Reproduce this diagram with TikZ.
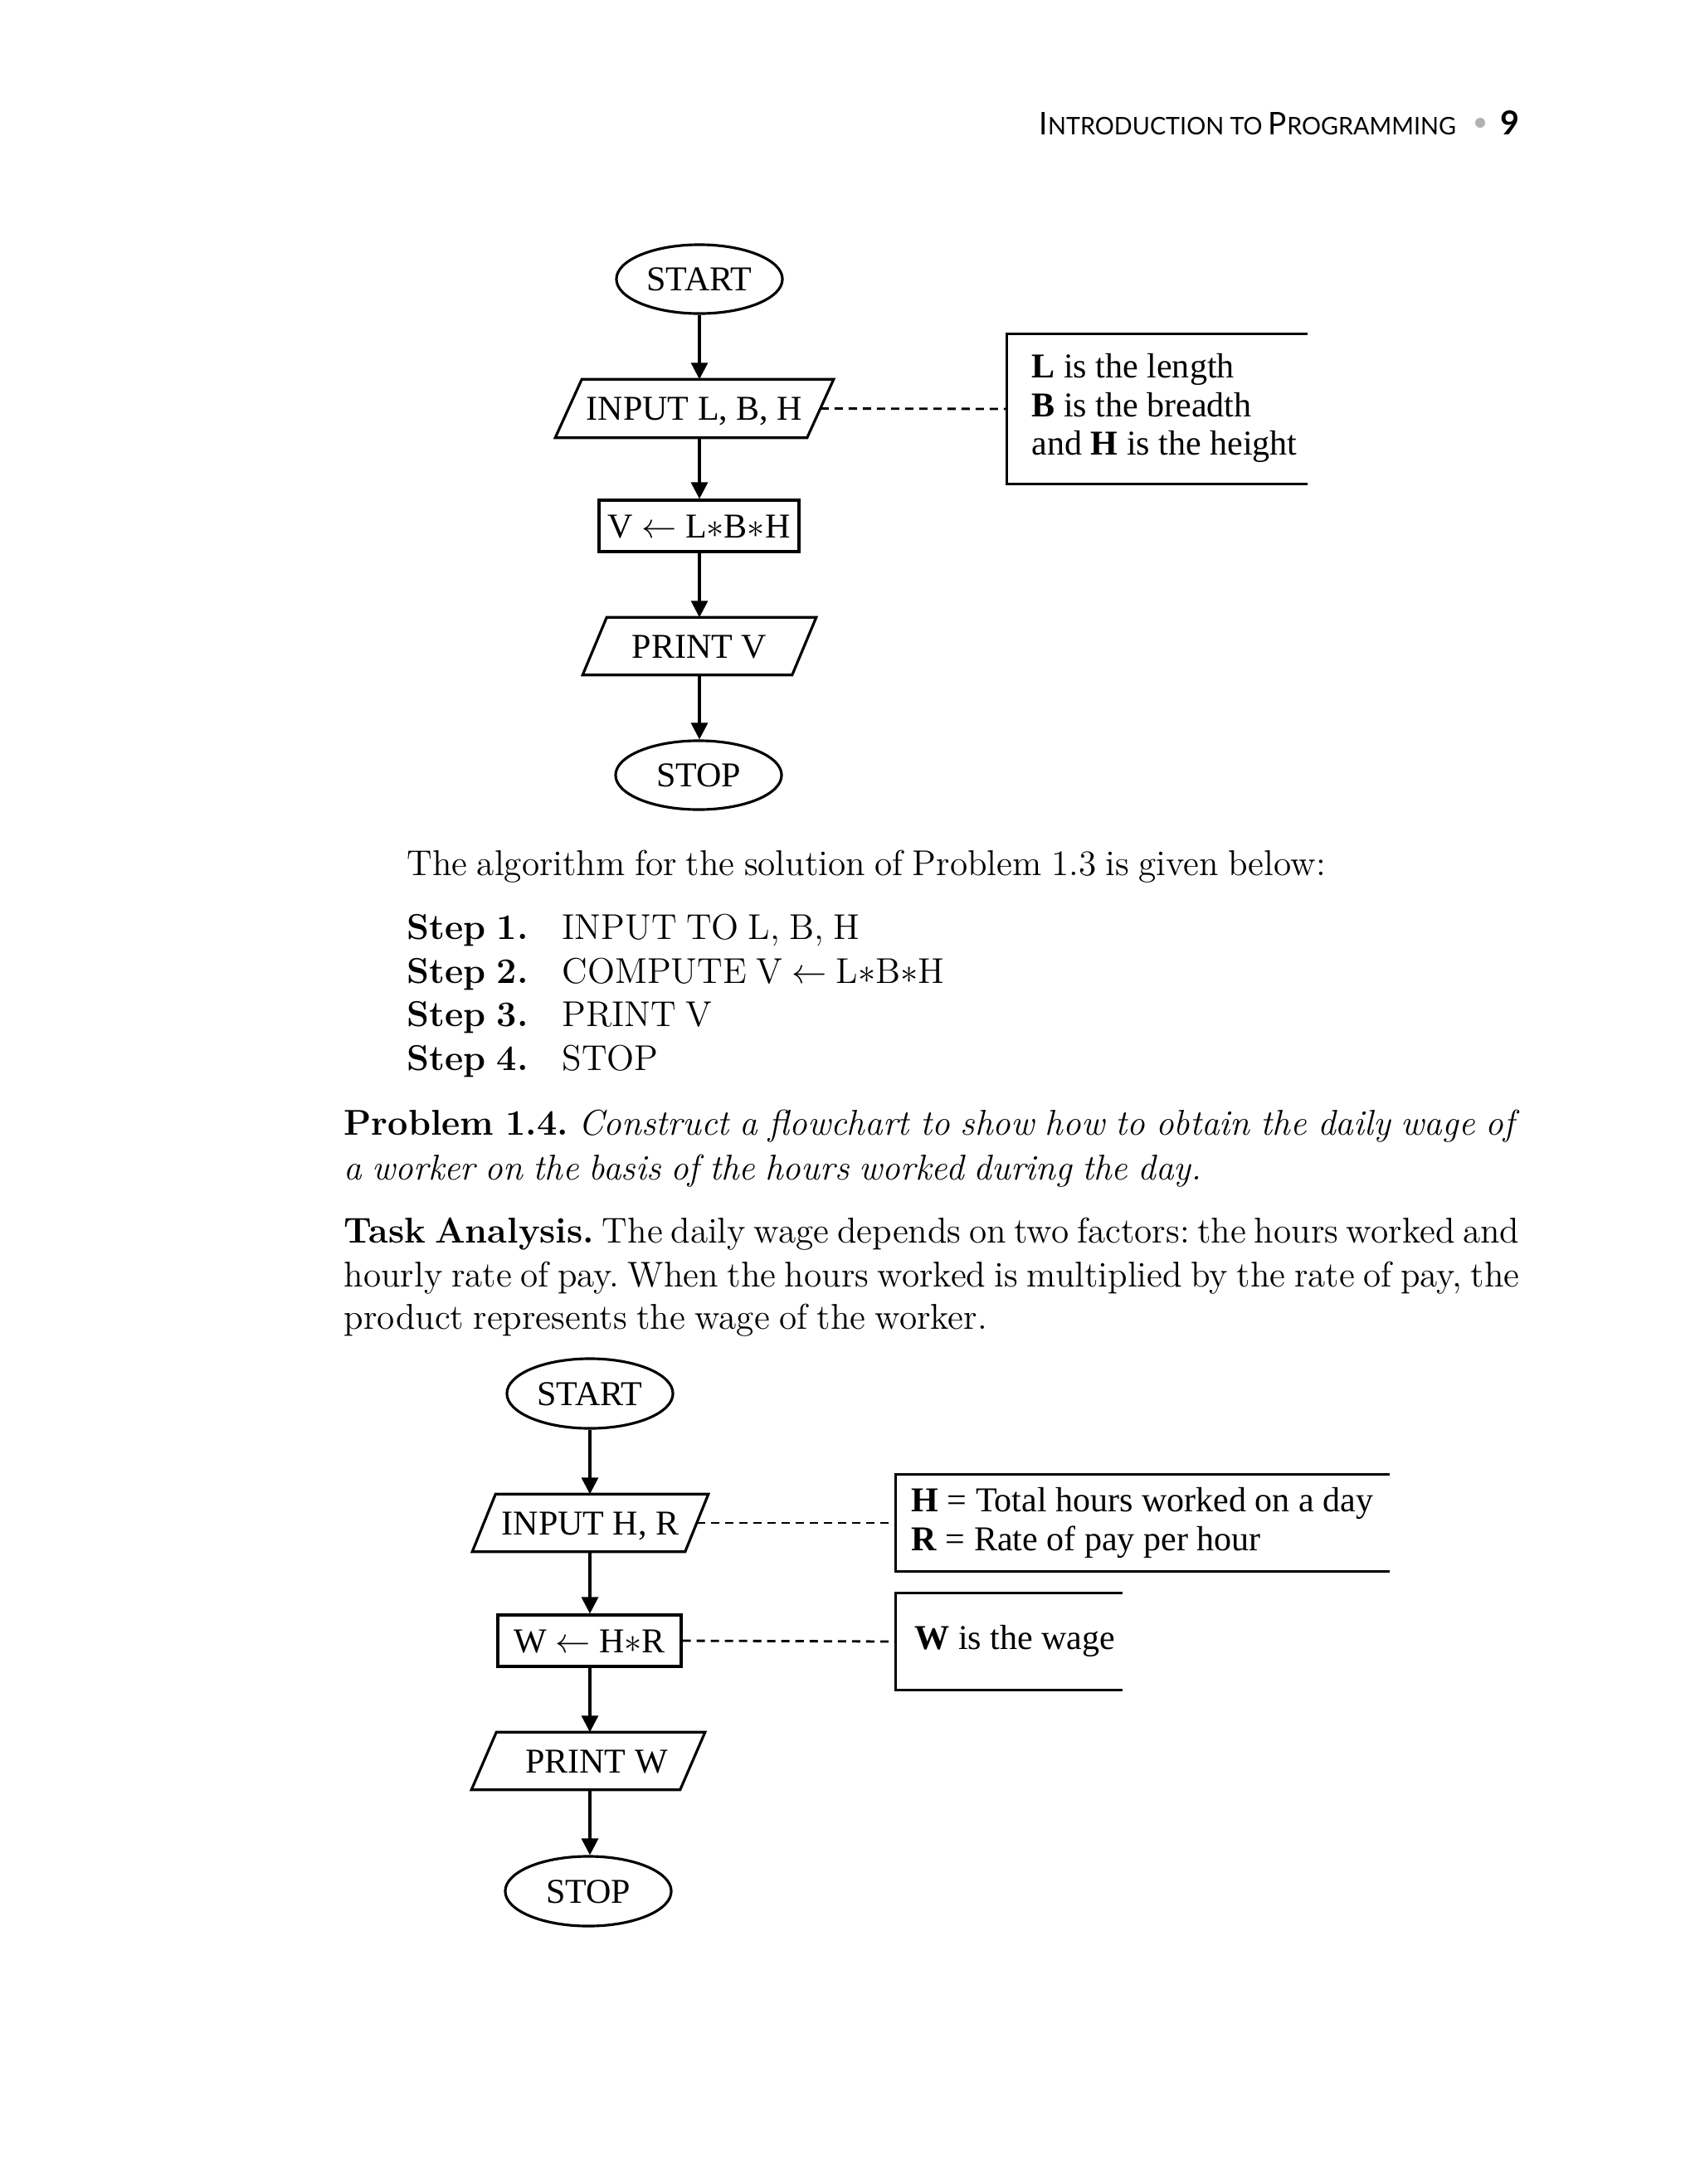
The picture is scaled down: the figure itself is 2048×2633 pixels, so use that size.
\documentclass[tikz,border=0pt]{standalone}
\usepackage{fontspec}
\usepackage{graphicx}
\usetikzlibrary{shapes.geometric,arrows.meta}
\newfontfamily\dgfont{Liberation Serif}
\newfontfamily\hdfont{Lato}
\newfontfamily\bodyfont{Latin Modern Roman}[WordSpace=0.8]
\newcommand{\drawpara}[2]{\draw[ln] ([xshift=#2]#1.north west) -- (#1.north east) -- ([xshift=-#2]#1.south east) -- (#1.south west) -- cycle;}
\tikzset{
  ln/.style={line width=0.9pt},
  arr/.style={ln, -{Triangle[length=0.2cm,width=0.2cm]}},
  dsh/.style={line width=0.8pt, dash pattern=on 0.1cm off 0.07cm},
  fc/.style={font=\dgfont\fontsize{11.95}{14}\selectfont, text height=0.28cm, text depth=0pt, inner sep=0pt},
  term/.style={fc, ellipse, draw, ln, minimum width=2cm, minimum height=0.83cm},
  proc/.style={fc, rectangle, draw, ln},
  io/.style={fc, rectangle, draw=none},
  brk/.style={rectangle, draw=none, inner sep=0pt},
  btxt/.style={font=\dgfont\fontsize{11.95}{14}\selectfont, anchor=base west, inner sep=0pt},
  body/.style={font=\bodyfont\fontsize{12.3}{14}\selectfont, anchor=base west, inner sep=0pt},
}
\begin{document}
\frenchspacing
\begin{tikzpicture}[x=0.01cm, y=-0.01cm]
\fill[white] (0,0) rectangle (2048,2633);
\useasboundingbox (0,0) rectangle (2048,2633);

% header
\node[anchor=base west, inner sep=0pt] (hdr) at (1252,162) {\resizebox{5.02cm}{0.27cm}{\hdfont{\fontsize{10.7}{12}\selectfont I}{\fontsize{8.3}{10}\selectfont NTRODUCTION TO }{\fontsize{10.7}{12}\selectfont P}{\fontsize{8.3}{10}\selectfont ROGRAMMING}}};
\node[circle, fill=gray!60, minimum size=0.12cm, inner sep=0pt] (dot) at (1784,148) {};
\node[anchor=base west, inner sep=0pt] (pg) at (1808,162) {\resizebox{!}{0.29cm}{\hdfont\bfseries 9}};

% top flowchart
\node[term] (st1) at (843,336.5) {START};
\node[io, minimum width=3.34cm, minimum height=0.69cm] (in1) at (837,492.5) {INPUT L, B, H};
\node[proc, minimum width=2.41cm, minimum height=0.62cm] (cp1) at (842.5,634) {V $\leftarrow$ L$*$B$*$H};
\node[io, minimum width=2.80cm, minimum height=0.68cm] (pr1) at (843,779) {PRINT V};
\node[term] (sp1) at (842,934.5) {STOP};
\drawpara{in1}{0.32cm}
\drawpara{pr1}{0.29cm}
\draw[arr] (st1.south) -- (st1.south |- in1.north);
\draw[arr] (st1.south |- in1.south) -- (st1.south |- cp1.north);
\draw[arr] (st1.south |- cp1.south) -- (st1.south |- pr1.north);
\draw[arr] (st1.south |- pr1.south) -- (st1.south |- sp1.north);

\node[brk, minimum width=3.61cm, minimum height=1.80cm] (nt1) at (1394.5,493) {};
\draw[ln] (nt1.north east) -- (nt1.north west) -- (nt1.south west) -- (nt1.south east);
\draw[dsh] ([xshift=-0.16cm]in1.east) -- (nt1.west);
\node[btxt] (t1a) at (1243,455) {\textbf{L} is the length};
\node[btxt] (t1b) at (1243,502) {\textbf{B} is the breadth};
\node[btxt] (t1c) at (1243,548) {and \textbf{H} is the height};

% body text
\node[body] (l0) at (490,1055) {The algorithm for the solution of Problem 1.3 is given below:};
\node[body] (s1a) at (490,1132) {\textbf{Step 1.}};
\node[body] (s1b) at (677,1132) {INPUT TO L, B, H};
\node[body] (s2a) at (490,1185) {\textbf{Step 2.}};
\node[body] (s2b) at (677,1185) {COMPUTE V $\leftarrow$ L$*$B$*$H};
\node[body] (s3a) at (490,1237) {\textbf{Step 3.}};
\node[body] (s3b) at (677,1237) {PRINT V};
\node[body] (s4a) at (490,1290) {\textbf{Step 4.}};
\node[body] (s4b) at (677,1290) {STOP};

\node[body] (pa) at (414,1368) {\makebox[14.16cm][s]{\textbf{Problem 1.4.}\ \textit{Construct a flowchart to show how to obtain the daily wage of}}};
\node[body] (pb) at (414,1422) {\textit{a worker on the basis of the hours worked during the day.}};
\node[body] (ta) at (414,1498) {\makebox[14.16cm][s]{\textbf{Task Analysis.} The daily wage depends on two factors: the hours worked and}};
\node[body] (tb) at (414,1551) {\makebox[14.16cm][s]{hourly rate of pay. When the hours worked is multiplied by the rate of pay, the}};
\node[body] (tc) at (414,1602) {product represents the wage of the worker.};

% bottom flowchart
\node[term, minimum height=0.84cm] (st2) at (711,1680) {START};
\node[io, minimum width=2.83cm, minimum height=0.68cm] (in2) at (711.5,1836) {INPUT H, R};
\node[proc, minimum width=2.21cm, minimum height=0.62cm] (cp2) at (710.5,1978) {W $\leftarrow$ H$*$R};
\node[io, minimum width=2.80cm, minimum height=0.68cm] (pr2) at (709,2123) {\hspace*{0.2cm}PRINT W};
\node[term, minimum height=0.84cm] (sp2) at (709,2280) {STOP};
\drawpara{in2}{0.28cm}
\drawpara{pr2}{0.30cm}
\draw[arr] (st2.south) -- (st2.south |- in2.north);
\draw[arr] (st2.south |- in2.south) -- (st2.south |- cp2.north);
\draw[arr] (st2.south |- cp2.south) -- (st2.south |- pr2.north);
\draw[arr] (st2.south |- pr2.south) -- (st2.south |- sp2.north);

\node[brk, minimum width=5.94cm, minimum height=1.16cm] (nt2) at (1377,1836) {};
\draw[ln] (nt2.north east) -- (nt2.north west) -- (nt2.south west) -- (nt2.south east);
\draw[dsh] ([xshift=-0.14cm]in2.east) -- (nt2.west);
\node[btxt] (t2a) at (1098,1822) {\textbf{H} = Total hours worked on a day};
\node[btxt] (t2b) at (1098,1869) {\textbf{R} = Rate of pay per hour};

\node[brk, minimum width=2.72cm, minimum height=1.16cm] (nt3) at (1216,1979) {};
\draw[ln] (nt3.north east) -- (nt3.north west) -- (nt3.south west) -- (nt3.south east);
\draw[dsh] (cp2.east) -- (nt3.west);
\node[btxt] (t3a) at (1102,1988) {\textbf{W} is the wage};
\end{tikzpicture}
\end{document}
